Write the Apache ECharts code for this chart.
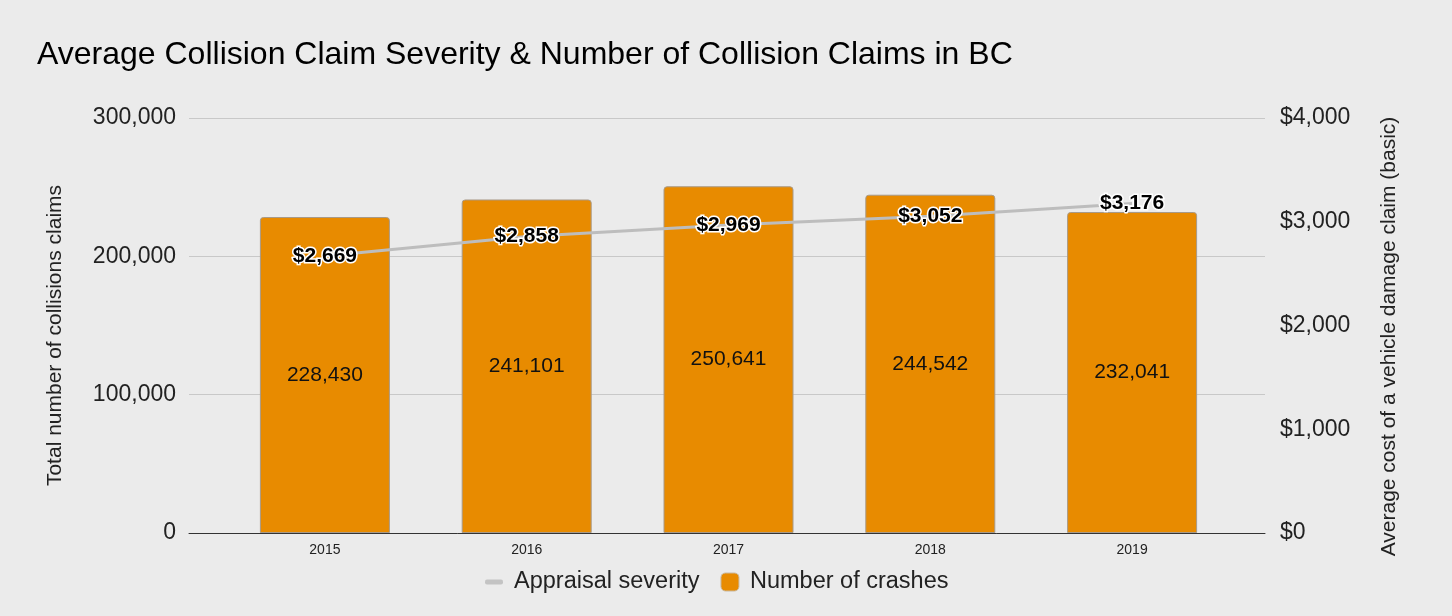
<!DOCTYPE html>
<html>
<head>
<meta charset="utf-8">
<script src="https://cdn.jsdelivr.net/npm/echarts@6/dist/echarts.min.js"></script>
<style>
  html, body { margin: 0; padding: 0; background: #ebebeb; }
  #chart { width: 1452px; height: 616px; }
</style>
</head>
<body>
<div id="chart"></div>
<script>
const years = ['2015', '2016', '2017', '2018', '2019'];
const crashes = [228430, 241101, 250641, 244542, 232041];
const severity = [2669, 2858, 2969, 3052, 3176];
const leftTicks = { min: 0, max: 300000, interval: 100000 };
const rightTicks = { min: 0, max: 4000, interval: 1000 };

const FONT = '"Liberation Sans", Arial, sans-serif';
const fmtNum = v => v.toLocaleString('en-US');
const fmtUsd = v => '$' + v.toLocaleString('en-US');

const chart = echarts.init(document.getElementById('chart'));
chart.setOption({
  backgroundColor: '#ebebeb',
  textStyle: { fontFamily: FONT },
  animation: false,
  title: {
    text: 'Average Collision Claim Severity & Number of Collision Claims in BC',
    left: 32, top: 34,
    textStyle: { fontFamily: FONT, fontSize: 32, fontWeight: 'normal', color: '#000' }
  },
  legend: {
    bottom: 17, left: 480,
    itemWidth: 18, itemHeight: 18, itemGap: 21,
    textStyle: { fontFamily: FONT, fontSize: 23.5, color: '#222', padding: [0, 0, 0, 6] },
    data: [
      { name: 'Appraisal severity', icon: 'path://M2,0 h14 a2,2 0 0 1 2,2 v1 a2,2 0 0 1 -2,2 h-14 a2,2 0 0 1 -2,-2 v-1 a2,2 0 0 1 2,-2 Z',
        itemStyle: { color: '#c3c3c3', borderWidth: 0 } },
      { name: 'Number of crashes', icon: 'roundRect',
        itemStyle: { color: '#e88b00', borderColor: '#c8b8a0', borderWidth: 1 } }
    ]
  },
  grid: [
    { left: 189, right: 187, top: 118, bottom: 83 },
    { left: 224, right: 219, top: 118, bottom: 83 }
  ],
  xAxis: [
    { type: 'value', gridIndex: 0, min: 0, max: 1, show: true,
      axisLine: { show: true, onZero: false, lineStyle: { color: '#333', width: 1 } },
      axisTick: { show: false }, axisLabel: { show: false }, splitLine: { show: false } },
    { type: 'category', gridIndex: 1, data: years,
      axisLine: { show: false }, axisTick: { show: false },
      axisLabel: { fontFamily: FONT, fontSize: 14, color: '#222', margin: 10 } }
  ],
  yAxis: [
    { type: 'value', gridIndex: 0, position: 'left', ...leftTicks,
      name: 'Total number of collisions claims', nameLocation: 'middle', nameGap: 123,
      nameTextStyle: { fontFamily: FONT, fontSize: 21, color: '#222', padding: [0, 20, 0, 0] },
      axisLine: { show: false }, axisTick: { show: false },
      axisLabel: { fontFamily: FONT, fontSize: 23, color: '#222', margin: 13, formatter: fmtNum },
      splitLine: { lineStyle: { color: '#c8c8c8', width: 1 } } },
    { type: 'value', gridIndex: 0, position: 'right', ...rightTicks,
      name: 'Average cost of a vehicle damage claim (basic)', nameLocation: 'middle', nameGap: 114,
      nameTextStyle: { fontFamily: FONT, fontSize: 21, color: '#222', padding: [0, 22, 0, 0] },
      axisLine: { show: false }, axisTick: { show: false },
      axisLabel: { fontFamily: FONT, fontSize: 23, color: '#222', margin: 15, formatter: fmtUsd },
      splitLine: { show: false } },
    { type: 'value', gridIndex: 1, ...leftTicks, show: false, splitLine: { show: false } },
    { type: 'value', gridIndex: 1, ...rightTicks, show: false, splitLine: { show: false } }
  ],
  series: [
    {
      name: 'Number of crashes', type: 'bar', xAxisIndex: 1, yAxisIndex: 2,
      data: crashes, barWidth: 130, z: 2,
      itemStyle: { color: '#e88b00', borderColor: '#a89a88', borderWidth: 1, borderRadius: [3, 3, 0, 0] },
      label: { show: true, position: 'inside', fontFamily: FONT, fontSize: 21, color: '#111',
        formatter: p => fmtNum(p.value) }
    },
    {
      name: 'Appraisal severity', type: 'line', xAxisIndex: 1, yAxisIndex: 3,
      data: severity, z: 5,
      symbol: 'circle', symbolSize: 0.1,
      lineStyle: { color: '#bdbdbd', width: 3 },
      itemStyle: { color: '#bdbdbd' },
      label: { show: true, position: 'inside', fontFamily: FONT, fontSize: 21, fontWeight: 'bold',
        color: '#000', textBorderColor: '#fff', textBorderWidth: 3,
        formatter: p => fmtUsd(p.value) }
    }
  ]
});
</script>
</body>
</html>
